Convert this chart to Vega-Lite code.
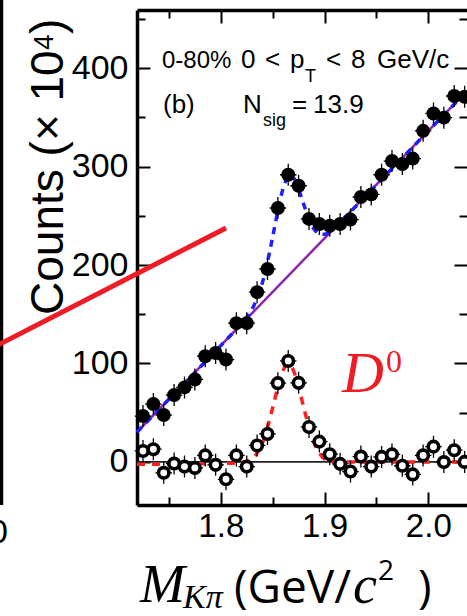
{
"$schema":"https://vega.github.io/schema/vega-lite/v6.json",
"width":330,"height":495,
"autosize":{"type":"none"},
"padding":{"left":137,"top":10,"right":0,"bottom":111},
"background":"white",
"config":{"view":{"stroke":null},"axis":{"grid":false,"domainColor":"black","tickColor":"black","labelColor":"black","labelFont":"Liberation Sans","domainWidth":3.5,"tickWidth":2}},
"datasets":{
"pts":[
{"m":1.725,"raw":46.6,"sub":11.1},{"m":1.735,"raw":58.8,"sub":12.9},{"m":1.745,"raw":47.6,"sub":-11.1},{"m":1.755,"raw":67.9,"sub":-1.7},
{"m":1.765,"raw":75.7,"sub":-4.8},{"m":1.775,"raw":83.8,"sub":-6.1},{"m":1.785,"raw":107.4,"sub":6.6},{"m":1.795,"raw":110.7,"sub":-3.0},
{"m":1.805,"raw":104,"sub":-17.7},{"m":1.815,"raw":141,"sub":6.6},{"m":1.825,"raw":141,"sub":-4.8},{"m":1.835,"raw":172.5,"sub":16.7},
{"m":1.845,"raw":196,"sub":28.4},{"m":1.855,"raw":258,"sub":80},{"m":1.865,"raw":291.8,"sub":102.6},{"m":1.875,"raw":280.6,"sub":80.3},
{"m":1.885,"raw":246.9,"sub":35.5},{"m":1.895,"raw":241.8,"sub":20.6},{"m":1.905,"raw":240,"sub":7.8},{"m":1.915,"raw":241.8,"sub":-2.0},
{"m":1.925,"raw":246.2,"sub":-9.8},{"m":1.935,"raw":269.2,"sub":5.4},{"m":1.945,"raw":271.8,"sub":-4.8},{"m":1.955,"raw":291.8,"sub":5.1},
{"m":1.965,"raw":305.7,"sub":7.6},{"m":1.975,"raw":302.6,"sub":-3.9},{"m":1.985,"raw":308.2,"sub":-12.7},{"m":1.995,"raw":336.4,"sub":6.6},
{"m":2.005,"raw":354.1,"sub":15.5},{"m":2.015,"raw":349.8,"sub":-0.2},{"m":2.025,"raw":371.8,"sub":11.9},{"m":2.035,"raw":371,"sub":0}
],
"fit":[
{"m":1.7192,"v":30.2},{"m":1.76,"v":74.6},{"m":1.80,"v":118.2},{"m":1.82,"v":141},{"m":1.83,"v":154.9},{"m":1.835,"v":166.4},
{"m":1.84,"v":181.8},{"m":1.845,"v":203.3},{"m":1.85,"v":228.7},{"m":1.855,"v":255.2},{"m":1.86,"v":277.6},{"m":1.865,"v":289.1},
{"m":1.87,"v":288.5},{"m":1.875,"v":277},{"m":1.88,"v":261.4},{"m":1.885,"v":246.9},{"m":1.89,"v":236.3},{"m":1.895,"v":231.8},
{"m":1.90,"v":231.2},{"m":1.91,"v":239.1},{"m":1.92,"v":249},{"m":1.96,"v":292.6},{"m":2.00,"v":336.2},{"m":2.0373,"v":376.9}
],
"sig":[
{"m":1.7192,"v":-2.5},{"m":1.80,"v":-1.5},{"m":1.82,"v":-0.5},{"m":1.83,"v":3},{"m":1.835,"v":9},{"m":1.84,"v":19},{"m":1.845,"v":35},
{"m":1.85,"v":55},{"m":1.855,"v":76},{"m":1.86,"v":93},{"m":1.865,"v":99.5},{"m":1.87,"v":93},{"m":1.875,"v":76},{"m":1.88,"v":55},
{"m":1.885,"v":35},{"m":1.89,"v":19},{"m":1.895,"v":9},{"m":1.90,"v":3},{"m":1.91,"v":0.5},{"m":1.92,"v":0},{"m":2.0373,"v":0}
],
"bkg":[{"m":1.7192,"v":30.2},{"m":2.0373,"v":376.9}],
"txt24":[{"m":1.74333,"v":400.3,"t":"0-80%"}],
"txt26":[
{"m":1.81947,"v":400.3,"t":"0"},{"m":1.84260,"v":400.3,"t":"<"},{"m":1.86670,"v":400.3,"t":"p"},
{"m":1.90140,"v":400.3,"t":"<"},{"m":1.92550,"v":400.3,"t":"8"},{"m":1.95056,"v":400.3,"t":"GeV/c"},
{"m":1.74429,"v":354.6,"t":"(b)"},{"m":1.82140,"v":354.6,"t":"N"},{"m":1.86863,"v":354.6,"t":"="},{"m":1.88887,"v":354.6,"t":"13.9"}
],
"txtsub":[{"m":1.88116,"v":386.1,"t":"T"},{"m":1.84068,"v":341.4,"t":"sig"}],
"serif54":[{"m":1.72212,"v":-142.4,"t":"M"},{"m":1.92745,"v":-143.4,"t":"c"}],
"serif34":[{"m":1.76357,"v":-148.7,"t":"Kπ"}],
"sans46":[{"m":1.81273,"v":-143.4,"t":"(GeV/"},{"m":1.99007,"v":-143.4,"t":")"}],
"sans28":[{"m":1.95152,"v":-120.4,"t":"2"}],
"dbig":[{"m":1.91683,"v":71.0,"t":"D"}],
"dsup":[{"m":1.95927,"v":91.4,"t":"0"}],
"ytitle":[{"m":1.64790,"v":149.3,"t":"Counts (× 10"},{"m":1.64790,"v":434.9,"t":")"}],
"ysup":[{"m":1.63826,"v":418.6,"t":"4"}],
"prev":[{"m":1.58862,"lo":-43.8,"hi":470}],
"prevlbl":[{"m":1.59489,"v":-82,"t":"2.0"}],
"arrow":[{"m":1.58235,"v":117.2,"m2":1.80503,"v2":237.7}],
"zero":[{"z":0}]
},
"resolve":{"axis":{"x":"independent","y":"independent"}},
"layer":[
{"data":{"name":"zero"},"mark":{"type":"rule","color":"#222222","strokeWidth":1.6},
 "encoding":{"y":{"field":"z","type":"quantitative","scale":{"domain":[-43.8,459.2],"nice":false,"zero":false},"axis":null}}},
{"data":{"name":"bkg"},"mark":{"type":"line","color":"#8e24aa","strokeWidth":2.5},
 "encoding":{"x":{"field":"m","type":"quantitative","scale":{"domain":[1.71923,2.0373],"nice":false,"zero":false},"axis":null},
  "y":{"field":"v","type":"quantitative","scale":{"domain":[-43.8,459.2],"nice":false,"zero":false},"axis":null}}},
{"data":{"name":"fit"},"mark":{"type":"line","color":"#1f1fff","strokeWidth":3.5,"strokeDash":[7,6],"interpolate":"monotone"},
 "encoding":{"x":{"field":"m","type":"quantitative","scale":{"domain":[1.71923,2.0373],"nice":false,"zero":false},"axis":null},
  "y":{"field":"v","type":"quantitative","scale":{"domain":[-43.8,459.2],"nice":false,"zero":false},"axis":null}}},
{"data":{"name":"sig"},"mark":{"type":"line","color":"#ff1f1f","strokeWidth":3.5,"strokeDash":[8,7],"interpolate":"monotone"},
 "encoding":{"x":{"field":"m","type":"quantitative","scale":{"domain":[1.71923,2.0373],"nice":false,"zero":false},"axis":null},
  "y":{"field":"v","type":"quantitative","scale":{"domain":[-43.8,459.2],"nice":false,"zero":false},"axis":null}}},
{"data":{"name":"pts"},"mark":{"type":"point","shape":"M0,-1L0,1M-0.75,0L0.75,0","filled":false,"stroke":"black","strokeWidth":1.3,"size":484,"opacity":1},
 "encoding":{"x":{"field":"m","type":"quantitative","scale":{"domain":[1.71923,2.0373],"nice":false,"zero":false},"axis":null},
  "y":{"field":"raw","type":"quantitative","scale":{"domain":[-43.8,459.2],"nice":false,"zero":false},"axis":null}}},
{"data":{"name":"pts"},"mark":{"type":"point","shape":"circle","filled":true,"color":"black","size":196,"opacity":1},
 "encoding":{"x":{"field":"m","type":"quantitative","scale":{"domain":[1.71923,2.0373],"nice":false,"zero":false},
   "axis":{"orient":"bottom","title":null,"values":[1.75,1.8,1.85,1.9,1.95,2.0],"labelExpr":"abs(datum.value*10-round(datum.value*10))<0.001 ? format(datum.value,'.1f') : ''",
    "tickSize":{"condition":{"test":"abs(datum.value*10-round(datum.value*10))<0.001","value":-13},"value":-8},
    "labelFontSize":33,"labelPadding":18,"labelBaseline":"top","labelFlush":false,"labelOverlap":false}},
  "y":{"field":"raw","type":"quantitative","scale":{"domain":[-43.8,459.2],"nice":false,"zero":false},
   "axis":{"orient":"left","title":null,"values":[0,50,100,150,200,250,300,350,400,450],"labelExpr":"datum.value % 100 === 0 ? datum.label : ''",
    "tickSize":{"condition":{"test":"datum.value % 100 === 0","value":-13},"value":-8},
    "labelFontSize":34,"labelPadding":22,"labelFlush":false,"labelOverlap":false}}}},
{"data":{"name":"pts"},"mark":{"type":"point","shape":"M0,-1L0,1M-0.75,0L0.75,0","filled":false,"stroke":"black","strokeWidth":1.3,"size":484,"opacity":1},
 "encoding":{"x":{"field":"m","type":"quantitative","scale":{"domain":[1.71923,2.0373],"nice":false,"zero":false},"axis":null},
  "y":{"field":"sub","type":"quantitative","scale":{"domain":[-43.8,459.2],"nice":false,"zero":false},"axis":null}}},
{"data":{"name":"pts"},"mark":{"type":"point","shape":"circle","filled":true,"fill":"white","stroke":"black","strokeWidth":3.6,"size":110,"opacity":1},
 "encoding":{"x":{"field":"m","type":"quantitative","scale":{"domain":[1.71923,2.0373],"nice":false,"zero":false},
   "axis":{"orient":"top","title":null,"labels":false,"values":[1.75,1.8,1.85,1.9,1.95,2.0],
    "tickSize":{"condition":{"test":"abs(datum.value*10-round(datum.value*10))<0.001","value":-13},"value":-8}}},
  "y":{"field":"sub","type":"quantitative","scale":{"domain":[-43.8,459.2],"nice":false,"zero":false},
   "axis":{"orient":"right","title":null,"labels":false,"domain":false,"values":[0,50,100,150,200,250,300,350,400,450],
    "tickSize":{"condition":{"test":"datum.value % 100 === 0","value":-13},"value":-8}}}}},
{"data":{"name":"txt24"},"mark":{"type":"text","font":"Liberation Sans","fontSize":24,"align":"left","baseline":"alphabetic","color":"black"},
 "encoding":{"x":{"field":"m","type":"quantitative","scale":{"domain":[1.71923,2.0373],"nice":false,"zero":false},"axis":null},
  "y":{"field":"v","type":"quantitative","scale":{"domain":[-43.8,459.2],"nice":false,"zero":false},"axis":null},"text":{"field":"t"}}},
{"data":{"name":"txt26"},"mark":{"type":"text","font":"Liberation Sans","fontSize":26,"align":"left","baseline":"alphabetic","color":"black"},
 "encoding":{"x":{"field":"m","type":"quantitative","scale":{"domain":[1.71923,2.0373],"nice":false,"zero":false},"axis":null},
  "y":{"field":"v","type":"quantitative","scale":{"domain":[-43.8,459.2],"nice":false,"zero":false},"axis":null},"text":{"field":"t"}}},
{"data":{"name":"txtsub"},"mark":{"type":"text","font":"Liberation Sans","fontSize":18,"align":"left","baseline":"alphabetic","color":"black"},
 "encoding":{"x":{"field":"m","type":"quantitative","scale":{"domain":[1.71923,2.0373],"nice":false,"zero":false},"axis":null},
  "y":{"field":"v","type":"quantitative","scale":{"domain":[-43.8,459.2],"nice":false,"zero":false},"axis":null},"text":{"field":"t"}}},
{"data":{"name":"serif54"},"mark":{"type":"text","font":"Liberation Serif","fontStyle":"italic","fontSize":54,"align":"left","baseline":"alphabetic","color":"black"},
 "encoding":{"x":{"field":"m","type":"quantitative","scale":{"domain":[1.71923,2.0373],"nice":false,"zero":false},"axis":null},
  "y":{"field":"v","type":"quantitative","scale":{"domain":[-43.8,459.2],"nice":false,"zero":false},"axis":null},"text":{"field":"t"}}},
{"data":{"name":"serif34"},"mark":{"type":"text","font":"Liberation Serif","fontStyle":"italic","fontSize":34,"align":"left","baseline":"alphabetic","color":"black"},
 "encoding":{"x":{"field":"m","type":"quantitative","scale":{"domain":[1.71923,2.0373],"nice":false,"zero":false},"axis":null},
  "y":{"field":"v","type":"quantitative","scale":{"domain":[-43.8,459.2],"nice":false,"zero":false},"axis":null},"text":{"field":"t"}}},
{"data":{"name":"sans46"},"mark":{"type":"text","font":"Open Sans","fontSize":46,"align":"left","baseline":"alphabetic","color":"black"},
 "encoding":{"x":{"field":"m","type":"quantitative","scale":{"domain":[1.71923,2.0373],"nice":false,"zero":false},"axis":null},
  "y":{"field":"v","type":"quantitative","scale":{"domain":[-43.8,459.2],"nice":false,"zero":false},"axis":null},"text":{"field":"t"}}},
{"data":{"name":"sans28"},"mark":{"type":"text","font":"Open Sans","fontSize":28,"align":"left","baseline":"alphabetic","color":"black"},
 "encoding":{"x":{"field":"m","type":"quantitative","scale":{"domain":[1.71923,2.0373],"nice":false,"zero":false},"axis":null},
  "y":{"field":"v","type":"quantitative","scale":{"domain":[-43.8,459.2],"nice":false,"zero":false},"axis":null},"text":{"field":"t"}}},
{"data":{"name":"dbig"},"mark":{"type":"text","font":"Liberation Serif","fontStyle":"italic","fontSize":58,"align":"left","baseline":"alphabetic","color":"#ee1c24"},
 "encoding":{"x":{"field":"m","type":"quantitative","scale":{"domain":[1.71923,2.0373],"nice":false,"zero":false},"axis":null},
  "y":{"field":"v","type":"quantitative","scale":{"domain":[-43.8,459.2],"nice":false,"zero":false},"axis":null},"text":{"field":"t"}}},
{"data":{"name":"dsup"},"mark":{"type":"text","font":"Liberation Serif","fontSize":32,"align":"left","baseline":"alphabetic","color":"#ee1c24"},
 "encoding":{"x":{"field":"m","type":"quantitative","scale":{"domain":[1.71923,2.0373],"nice":false,"zero":false},"axis":null},
  "y":{"field":"v","type":"quantitative","scale":{"domain":[-43.8,459.2],"nice":false,"zero":false},"axis":null},"text":{"field":"t"}}},
{"data":{"name":"ytitle"},"mark":{"type":"text","font":"Liberation Sans","fontSize":46,"angle":270,"align":"left","baseline":"alphabetic","color":"black"},
 "encoding":{"x":{"field":"m","type":"quantitative","scale":{"domain":[1.71923,2.0373],"nice":false,"zero":false},"axis":null},
  "y":{"field":"v","type":"quantitative","scale":{"domain":[-43.8,459.2],"nice":false,"zero":false},"axis":null},"text":{"field":"t"}}},
{"data":{"name":"ysup"},"mark":{"type":"text","font":"Liberation Sans","fontSize":28,"angle":270,"align":"left","baseline":"alphabetic","color":"black"},
 "encoding":{"x":{"field":"m","type":"quantitative","scale":{"domain":[1.71923,2.0373],"nice":false,"zero":false},"axis":null},
  "y":{"field":"v","type":"quantitative","scale":{"domain":[-43.8,459.2],"nice":false,"zero":false},"axis":null},"text":{"field":"t"}}},
{"data":{"name":"prev"},"mark":{"type":"rule","color":"black","strokeWidth":3.5},
 "encoding":{"x":{"field":"m","type":"quantitative","scale":{"domain":[1.71923,2.0373],"nice":false,"zero":false},"axis":null},
  "y":{"field":"lo","type":"quantitative","scale":{"domain":[-43.8,459.2],"nice":false,"zero":false},"axis":null},"y2":{"field":"hi"}}},
{"data":{"name":"prevlbl"},"mark":{"type":"text","font":"Liberation Sans","fontSize":34,"align":"right","baseline":"alphabetic","color":"black"},
 "encoding":{"x":{"field":"m","type":"quantitative","scale":{"domain":[1.71923,2.0373],"nice":false,"zero":false},"axis":null},
  "y":{"field":"v","type":"quantitative","scale":{"domain":[-43.8,459.2],"nice":false,"zero":false},"axis":null},"text":{"field":"t"}}},
{"data":{"name":"arrow"},"mark":{"type":"rule","color":"#ee1c24","strokeWidth":5},
 "encoding":{"x":{"field":"m","type":"quantitative","scale":{"domain":[1.71923,2.0373],"nice":false,"zero":false},"axis":null},
  "y":{"field":"v","type":"quantitative","scale":{"domain":[-43.8,459.2],"nice":false,"zero":false},"axis":null},
  "x2":{"field":"m2"},"y2":{"field":"v2"}}}
]
}
